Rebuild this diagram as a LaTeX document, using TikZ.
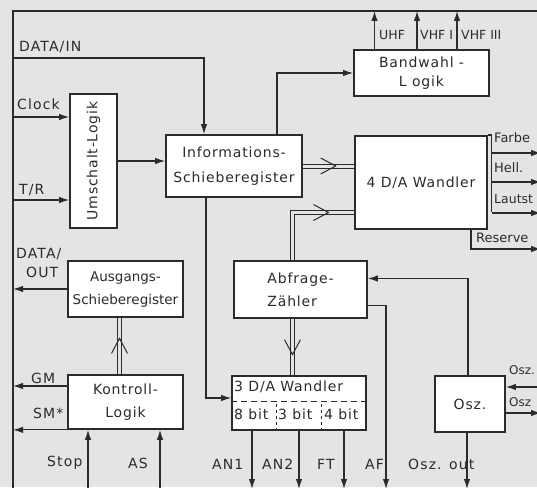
\documentclass[tikz,border=0pt]{standalone}
\usepackage{fontspec}
\setmainfont{DejaVu Sans}
\newfontfamily\boxfont[LetterSpace=6]{DejaVu Sans}
\newfontfamily\lblfont[LetterSpace=8]{DejaVu Sans}
\usetikzlibrary{arrows.meta,calc,positioning}
\definecolor{ink}{HTML}{2B2B2B}
\definecolor{paper}{HTML}{E4E4E2}

\begin{document}
\begin{tikzpicture}[x=1pt, y=-1pt,
  blk/.style={draw=ink, line width=1.7pt, fill=white, inner sep=0pt, text=ink, font=\boxfont\fontsize{14}{23}\selectfont, align=center},
  ln/.style={draw=ink, line width=1.2pt},
  arr/.style={ln, -{Latex[length=10pt,width=6.5pt]}},
  dbl/.style={draw=ink, line width=1pt, double=paper, double distance=3pt},
  lbl/.style={font=\lblfont\fontsize{14}{16}\selectfont, inner sep=0pt, text=ink, anchor=west},
  rlbl/.style={lbl, font=\fontsize{13}{15}\selectfont},
  chev/.pic={\draw[ink, line width=1pt] (-13pt,-8pt) -- (2pt,0pt) -- (-13pt,8pt);}
]
  % paper and frame
  \fill[paper] (0,0) rectangle (537,487);
  \useasboundingbox (0,0) rectangle (537,487);
  \coordinate (ftl) at (13,11);
  \draw[ink, line width=2pt] (13,495) -- (ftl) -- (545,11);

  % blocks
  \node[blk, minimum width=47, minimum height=134] (umsch) at (93.5,161) {\rotatebox{90}{Umschalt-Logik}};
  \node[blk, minimum width=136, minimum height=62, font=\boxfont\fontsize{14}{25}\selectfont] (info) at (234,166) {Informations-\\Schieberegister};
  \node[blk, minimum width=135, minimum height=46, font=\boxfont\fontsize{14}{19}\selectfont] (band) at (421.5,73) {Bandwahl -\\L ogik};
  \node[blk, minimum width=132, minimum height=93] (dawa4) at (421,182.5) {4 D/A Wandler};
  \node[blk, minimum width=115, minimum height=56, font=\fontsize{13.5}{23}\selectfont] (ausg) at (125.5,289) {Ausgangs-\\Schieberegister};
  \node[blk, minimum width=133, minimum height=57, align=left] (abfr) at (300.5,289.5) {Abfrage-\\Zähler};
  \node[blk, minimum width=115, minimum height=54] (kontr) at (125.5,402) {Kontroll-\\Logik};
  \node[blk, minimum width=134, minimum height=54] (dawa3) at (299,403) {};
  \node[blk, minimum width=70, minimum height=56] (osz) at (470,404) {Osz.};

  % 3 D/A Wandler inside
  \draw[ln, line width=0.8pt, dash pattern=on 6pt off 4pt] ($(dawa3.west)+(0,-2)$) -- ($(dawa3.east)+(0,-2)$);
  \draw[ln, line width=0.8pt, dash pattern=on 3pt off 3pt] ($(dawa3.south)+(-23,0)$) -- ++(0,-29);
  \draw[ln, line width=0.8pt, dash pattern=on 3pt off 3pt] ($(dawa3.south)+(22,0)$) -- ++(0,-29);
  \node[lbl, font=\boxfont\fontsize{14}{16}\selectfont] (d3t) at (234,387) {3 D/A Wandler};
  \node[lbl, font=\boxfont\fontsize{14}{16}\selectfont] (b8) at (234,414) {8 bit};
  \node[lbl, font=\boxfont\fontsize{14}{16}\selectfont] (b3) at (278,414) {3 bit};
  \node[lbl, font=\boxfont\fontsize{14}{16}\selectfont] (b4) at (324,414) {4 bit};

  % inputs on the left
  \coordinate (din) at (13,58);
  \coordinate (clk) at (13,117);
  \coordinate (tr) at (13,200);
  \draw[arr] (din) -| ($(info.north)+(-30,0)$);
  \draw[arr] (clk) -- (clk -| umsch.west);
  \draw[arr] (tr) -- (tr -| umsch.west);
  \draw[arr] (umsch.east) -- (umsch.east -| info.west);
  \draw[arr] ($(info.north)+(43,0)$) |- (band.west);
  \draw[arr] ($(info.south)+(-28,0)$) |- ($(dawa3.west)+(0,-5)$);

  % band outputs
  \foreach \dx/\nm in {-47/uhf, -4.5/vhfa, 35.5/vhfb}
    \draw[arr] ($(band.north)+(\dx,0)$) coordinate (\nm) -- (\nm |- ftl);

  % buses
  \draw[dbl] (info.east) -- (info.east -| dawa4.west);
  \path (info.east) -- (info.east -| dawa4.west) pic[pos=.6, sloped]{chev};
  \coordinate (ab1) at ($(abfr.north)+(-8,0)$);
  \coordinate (d4in) at ($(dawa4.west)+(0,30)$);
  \draw[dbl] (ab1) |- (d4in);
  \path (ab1 |- d4in) -- (d4in) pic[pos=.55, sloped]{chev};
  \coordinate (ab2) at ($(abfr.south)+(-8,0)$);
  \draw[dbl] (ab2) -- (ab2 |- dawa3.north);
  \path (ab2) -- (ab2 |- dawa3.north) pic[pos=.6, sloped]{chev};
  \coordinate (kt) at ($(kontr.north)+(-6,0)$);
  \draw[dbl] (kt) -- (kt |- ausg.south);
  \path (kt) -- (kt |- ausg.south) pic[pos=.6, sloped]{chev};

  % 4 D/A outputs
  \coordinate (bt) at ($(dawa4.north east)+(4,0)$);
  \draw[ln, line width=1.6pt] (dawa4.north east) -- (bt);
  \draw[ln] (bt) -- ++(0,77);
  \coordinate (fa) at (541,153);
  \coordinate (he) at (541,182);
  \coordinate (la) at (541,213);
  \coordinate (res) at (541,249);
  \draw[arr] (fa -| bt) -- (fa);
  \draw[arr] (he -| bt) -- (he);
  \draw[arr] (la -| bt) -- (la);
  \draw[arr] ($(dawa4.south)+(50,0)$) |- (res);

  % counter and oscillator
  \coordinate (af) at (386,489);
  \draw[arr] ($(osz.north)+(-2,0)$) |- ($(abfr.east)+(0,-11)$);
  \draw[arr] ($(abfr.east)+(0,16)$) -| (af);
  \coordinate (oszi) at (541,387);
  \coordinate (oszo) at (541,413);
  \coordinate (oszout) at (467,489);
  \draw[arr] (oszi) -- (oszi -| osz.east);
  \draw[arr] (oszo -| osz.east) -- (oszo);
  \draw[arr] (oszout |- osz.south) -- (oszout);

  % 3 D/A outputs
  \coordinate (an1) at (252,489);
  \coordinate (an2) at (299,489);
  \coordinate (ft) at (344,489);
  \draw[arr] (an1 |- dawa3.south) -- (an1);
  \draw[arr] (an2 |- dawa3.south) -- (an2);
  \draw[arr] (ft |- dawa3.south) -- (ft);

  % outputs on the left
  \coordinate (gm) at ($(kontr.west)+(0,-16)$);
  \coordinate (stp) at (88,495);
  \coordinate (as) at (160,495);
  \draw[arr] (ausg.west) -- (ausg.west -| ftl);
  \draw[arr] (gm) -- (gm -| ftl);
  \draw[arr] (kontr.south west) -- (kontr.south west -| ftl);
  \draw[arr] (stp) -- (stp |- kontr.south);
  \draw[arr] (as) -- (as |- kontr.south);

  % labels
  \node[lbl] (l-din) at (19,47) {DATA/IN};
  \node[lbl] (l-clk) at (17,104) {Clock};
  \node[lbl] (l-tr) at (19,190) {T/R};
  \node[rlbl, font=\fontsize{12.5}{15}\selectfont] (l-uhf) at (379,35) {UHF};
  \node[rlbl, font=\fontsize{12.5}{15}\selectfont] (l-vhfa) at (420,35) {VHF I};
  \node[rlbl, font=\fontsize{12.5}{15}\selectfont] (l-vhfb) at (461,35) {VHF III};
  \node[rlbl] (l-fa) at (494,138) {Farbe};
  \node[rlbl] (l-he) at (494,168) {Hell.};
  \node[rlbl, font=\fontsize{12.5}{15}\selectfont] (l-la) at (494,199) {Lautst};
  \node[rlbl] (l-res) at (476,238) {Reserve};
  \node[lbl] (l-dout) at (16,254) {DATA/};
  \node[lbl] (l-out) at (26,272) {OUT};
  \node[lbl] (l-gm) at (31,378) {GM};
  \node[lbl] (l-sm) at (33,413) {SM*};
  \node[lbl] (l-stp) at (47,463) {Stop};
  \node[lbl] (l-as) at (128,463) {AS};
  \node[lbl] (l-an1) at (212,464) {AN1};
  \node[lbl] (l-an2) at (262,464) {AN2};
  \node[lbl] (l-ft) at (317,464) {FT};
  \node[lbl] (l-af) at (365,464) {AF};
  \node[lbl] (l-oszout) at (408,464) {Osz. out};
  \node[rlbl, font=\fontsize{12}{14}\selectfont] (l-oszi) at (509,370) {Osz.};
  \node[rlbl, font=\fontsize{12}{14}\selectfont] (l-oszo) at (509,402) {Osz};
\end{tikzpicture}
\end{document}
